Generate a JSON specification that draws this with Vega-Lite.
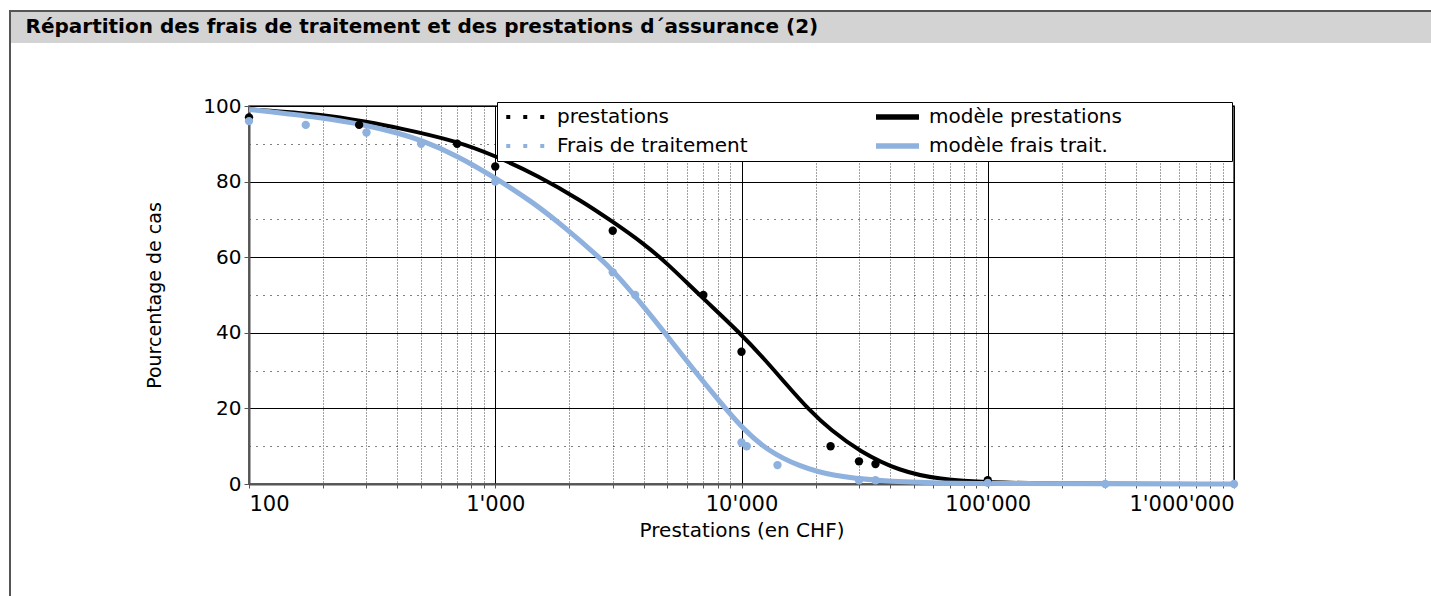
{
  "$schema": "https://vega.github.io/schema/vega-lite/v6.json",
  "padding": {"left": 9, "top": 10, "right": 0, "bottom": 0},
  "background": "white",
  "spacing": 0,
  "config": {
    "font": "DejaVu Sans",
    "view": {"stroke": "#333", "strokeWidth": 1.5}
  },
  "hconcat": [
    {
      "data": {"values": []},
      "mark": "rect",
      "width": 2,
      "height": 586,
      "view": {"fill": "#555", "stroke": null}
    },
    {
      "spacing": 52,
      "vconcat": [
        {
          "spacing": 0,
          "vconcat": [
            {
              "data": {"values": []},
              "mark": "rect",
              "width": 1420,
              "height": 2,
              "view": {"fill": "#555", "stroke": null}
            },
            {
              "data": {"values": []},
              "mark": "point",
              "width": 1420,
              "height": 31,
              "view": {"fill": "#d3d3d3", "stroke": null},
              "encoding": {
                "x": {
                  "field": "a",
                  "type": "quantitative",
                  "scale": {"domain": [0, 1]},
                  "axis": {
                    "orient": "top",
                    "title": "Répartition des frais de traitement et des prestations d´assurance (2)",
                    "domain": false,
                    "ticks": false,
                    "labels": false,
                    "grid": false,
                    "titleX": 14,
                    "titleY": 20,
                    "titleAlign": "left",
                    "titleAnchor": "start",
                    "titleBaseline": "alphabetic",
                    "titleFont": "DejaVu Sans",
                    "titleFontSize": 20,
                    "titleFontWeight": "bold",
                    "titleColor": "black"
                  }
                }
              }
            }
          ]
        },
        {
          "spacing": 0,
          "hconcat": [
            {
              "data": {"values": []},
              "mark": "point",
              "width": 1,
              "height": 1,
              "view": {"stroke": null}
            },
            {
              "width": 985,
              "height": 378,
              "data": {
                "values": [
                  {"series": "prestations", "x": 100, "y": 97},
                  {"series": "prestations", "x": 280, "y": 95},
                  {"series": "prestations", "x": 700, "y": 90},
                  {"series": "prestations", "x": 1000, "y": 84},
                  {"series": "prestations", "x": 3000, "y": 67},
                  {"series": "prestations", "x": 7000, "y": 50},
                  {"series": "prestations", "x": 10000, "y": 35},
                  {"series": "prestations", "x": 23000, "y": 10},
                  {"series": "prestations", "x": 30000, "y": 6},
                  {"series": "prestations", "x": 35000, "y": 5.3},
                  {"series": "prestations", "x": 100000, "y": 1},
                  {"series": "Frais de traitement", "x": 100, "y": 96},
                  {"series": "Frais de traitement", "x": 170, "y": 95},
                  {"series": "Frais de traitement", "x": 300, "y": 93},
                  {"series": "Frais de traitement", "x": 500, "y": 90},
                  {"series": "Frais de traitement", "x": 1000, "y": 80},
                  {"series": "Frais de traitement", "x": 3000, "y": 56},
                  {"series": "Frais de traitement", "x": 3700, "y": 50},
                  {"series": "Frais de traitement", "x": 10000, "y": 11},
                  {"series": "Frais de traitement", "x": 10500, "y": 10},
                  {"series": "Frais de traitement", "x": 14000, "y": 5},
                  {"series": "Frais de traitement", "x": 30000, "y": 1},
                  {"series": "Frais de traitement", "x": 35000, "y": 1},
                  {"series": "Frais de traitement", "x": 100000, "y": 0.3},
                  {"series": "Frais de traitement", "x": 300000, "y": 0},
                  {"series": "Frais de traitement", "x": 1000000, "y": 0},
                  {"series": "modèle prestations", "x": 100, "y": 99.1},
                  {"series": "modèle prestations", "x": 200, "y": 97.8},
                  {"series": "modèle prestations", "x": 300, "y": 95.8},
                  {"series": "modèle prestations", "x": 400, "y": 94.3},
                  {"series": "modèle prestations", "x": 700, "y": 90.7},
                  {"series": "modèle prestations", "x": 1000, "y": 86.8},
                  {"series": "modèle prestations", "x": 1500, "y": 81.5},
                  {"series": "modèle prestations", "x": 2230, "y": 75},
                  {"series": "modèle prestations", "x": 3000, "y": 69.4},
                  {"series": "modèle prestations", "x": 3970, "y": 63.8},
                  {"series": "modèle prestations", "x": 4950, "y": 58.6},
                  {"series": "modèle prestations", "x": 6750, "y": 50},
                  {"series": "modèle prestations", "x": 10000, "y": 39.6},
                  {"series": "modèle prestations", "x": 12600, "y": 32.5},
                  {"series": "modèle prestations", "x": 15000, "y": 26.8},
                  {"series": "modèle prestations", "x": 18900, "y": 19.4},
                  {"series": "modèle prestations", "x": 23000, "y": 14.3},
                  {"series": "modèle prestations", "x": 30200, "y": 8.6},
                  {"series": "modèle prestations", "x": 43800, "y": 3.4},
                  {"series": "modèle prestations", "x": 63800, "y": 1.2},
                  {"series": "modèle prestations", "x": 100000, "y": 0.4},
                  {"series": "modèle prestations", "x": 200000, "y": 0.05},
                  {"series": "modèle prestations", "x": 1000000, "y": 0},
                  {"series": "modèle frais trait.", "x": 100, "y": 99.1},
                  {"series": "modèle frais trait.", "x": 200, "y": 96.9},
                  {"series": "modèle frais trait.", "x": 300, "y": 94.9},
                  {"series": "modèle frais trait.", "x": 400, "y": 92.9},
                  {"series": "modèle frais trait.", "x": 500, "y": 91},
                  {"series": "modèle frais trait.", "x": 700, "y": 86.9},
                  {"series": "modèle frais trait.", "x": 1000, "y": 81},
                  {"series": "modèle frais trait.", "x": 1420, "y": 74.6},
                  {"series": "modèle frais trait.", "x": 1940, "y": 67.6},
                  {"series": "modèle frais trait.", "x": 2650, "y": 59.9},
                  {"series": "modèle frais trait.", "x": 3000, "y": 56.5},
                  {"series": "modèle frais trait.", "x": 3850, "y": 48.4},
                  {"series": "modèle frais trait.", "x": 4950, "y": 39.5},
                  {"series": "modèle frais trait.", "x": 6340, "y": 30.5},
                  {"series": "modèle frais trait.", "x": 8150, "y": 21.8},
                  {"series": "modèle frais trait.", "x": 10000, "y": 15},
                  {"series": "modèle frais trait.", "x": 12600, "y": 9},
                  {"series": "modèle frais trait.", "x": 17200, "y": 4.6},
                  {"series": "modèle frais trait.", "x": 23500, "y": 2.1},
                  {"series": "modèle frais trait.", "x": 36500, "y": 0.8},
                  {"series": "modèle frais trait.", "x": 60000, "y": 0.3},
                  {"series": "modèle frais trait.", "x": 100000, "y": 0.1},
                  {"series": "modèle frais trait.", "x": 1000000, "y": 0}
                ]
              },
              "encoding": {
                "x": {
                  "field": "x",
                  "type": "quantitative",
                  "scale": {"type": "log", "domain": [100, 1000000], "nice": false},
                  "axis": {
                    "title": "Prestations (en CHF)",
                    "values": [100,200,300,400,500,600,700,800,900,1000,2000,3000,4000,5000,6000,7000,8000,9000,10000,20000,30000,40000,50000,60000,70000,80000,90000,100000,200000,300000,400000,500000,600000,700000,800000,900000,1000000],
                    "labelExpr": "abs(log(datum.value)/LN10 - round(log(datum.value)/LN10)) < 0.001 ? replace(format(datum.value, ','), regexp(',', 'g'), \"'\") : ''",
                    "labelOverlap": false,
                    "labelFlush": true,
                    "labelFont": "DejaVu Sans",
                    "labelFontSize": 21,
                    "labelColor": "black",
                    "labelPadding": 5,
                    "tickSize": 4,
                    "tickColor": "#555",
                    "domainColor": "#555",
                    "domainWidth": 2,
                    "grid": true,
                    "gridColor": {"condition": {"test": "abs(log(datum.value)/LN10 - round(log(datum.value)/LN10)) < 0.001", "value": "black"}, "value": "#444"},
                    "gridDash": {"condition": {"test": "abs(log(datum.value)/LN10 - round(log(datum.value)/LN10)) < 0.001", "value": []}, "value": [1, 2]},
                    "gridOpacity": 1,
                    "titleFont": "DejaVu Sans",
                    "titleFontSize": 20,
                    "titleFontWeight": "normal",
                    "titleColor": "black",
                    "titlePadding": 6
                  }
                },
                "y": {
                  "field": "y",
                  "type": "quantitative",
                  "scale": {"domain": [0, 100], "nice": false},
                  "axis": {
                    "title": "Pourcentage de cas",
                    "values": [0,10,20,30,40,50,60,70,80,90,100],
                    "labelExpr": "datum.value % 20 === 0 ? datum.label : ''",
                    "labelFont": "DejaVu Sans",
                    "labelFontSize": 20,
                    "labelColor": "black",
                    "labelPadding": 3,
                    "tickSize": 5,
                    "tickColor": {"condition": {"test": "datum.value % 20 !== 0", "value": "transparent"}, "value": "#555"},
                    "domainColor": "#555",
                    "domainWidth": 2,
                    "grid": true,
                    "gridColor": "black",
                    "gridDash": {"condition": {"test": "datum.value % 20 !== 0", "value": [1, 6]}, "value": []},
                    "gridOpacity": 1,
                    "minExtent": 236,
                    "titleX": -95,
                    "titleY": 189,
                    "titleAlign": "center",
                    "titleBaseline": "middle",
                    "titleAngle": -90,
                    "titleFont": "DejaVu Sans",
                    "titleFontSize": 19,
                    "titleFontWeight": "normal",
                    "titleColor": "black"
                  }
                },
                "color": {
                  "field": "series",
                  "type": "nominal",
                  "scale": {
                    "domain": ["prestations", "Frais de traitement", "modèle prestations", "modèle frais trait."],
                    "range": ["black", "#8EB1DE", "black", "#8EB1DE"]
                  },
                  "legend": {
                    "title": null,
                    "orient": "none",
                    "legendX": 488,
                    "legendY": 92,
                    "columns": 2,
                    "columnPadding": 126,
                    "rowPadding": 9,
                    "padding": 5,
                    "fillColor": "white",
                    "strokeColor": "black",
                    "symbolSize": 100,
                    "symbolStrokeWidth": 0,
                    "labelFont": "DejaVu Sans",
                    "labelFontSize": 20,
                    "labelColor": "black",
                    "labelOffset": 35,
                    "labelLimit": 400,
                    "encode": {
                      "symbols": {
                        "update": {
                          "shape": {"signal": "indexof(['prestations','Frais de traitement'], datum.value) >= 0 ? 'M-1.15,-0.4h0.8v0.8h-0.8zM2.25,-0.4h0.8v0.8h-0.8zM5.65,-0.4h0.8v0.8h-0.8z' : 'M-1.6,-0.55H7V0.55H-1.6ZM68.6,0'"},
                          "fill": {"signal": "indexof(['prestations','modèle prestations'], datum.value) >= 0 ? 'black' : '#8EB1DE'"},
                          "stroke": {"value": "transparent"},
                          "opacity": {"value": 1}
                        }
                      }
                    }
                  }
                }
              },
              "layer": [
                {
                  "transform": [{"filter": {"field": "series", "oneOf": ["modèle prestations", "modèle frais trait."]}}],
                  "mark": {"type": "line", "interpolate": "basis"},
                  "encoding": {
                    "strokeWidth": {"condition": {"test": "datum.series === 'modèle frais trait.'", "value": 5}, "value": 4}
                  }
                },
                {
                  "transform": [{"filter": {"field": "series", "oneOf": ["prestations", "Frais de traitement"]}}],
                  "mark": {"type": "circle", "size": 70, "opacity": 1}
                }
              ]
            }
          ]
        }
      ]
    }
  ]
}
